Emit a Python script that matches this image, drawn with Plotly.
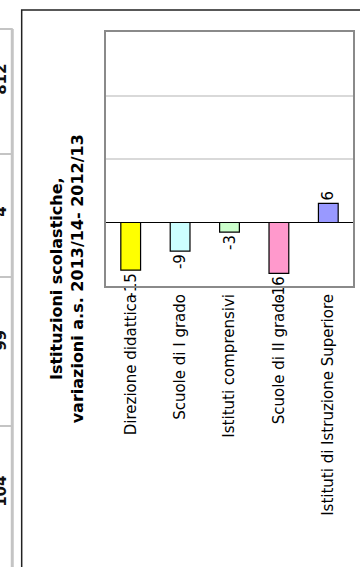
import plotly.graph_objects as go

categories = ["Direzione didattica", "Scuole di I grado", "Istituti comprensivi",
              "Scuole di II grado", "Istituti di Istruzione Superiore"]
values = [-15, -9, -3, -16, 6]
bar_colors = ["#FFFF00", "#CCFFFF", "#CCFFCC", "#FF99CC", "#9999FF"]
title_lines = ["Istituzioni scolastiche,", "variazioni a.s. 2013/14- 2012/13"]
table_values = ["812", "4", "99", "104"]

W, H = 360, 567
L, R, T, B = 106, 5, 32, 281
PW, PH = W - L - R, H - T - B


def xp(px):
    return (px - L) / PW


def yp(py):
    return (H - B - py) / PH


fig = go.Figure()
fig.add_trace(go.Bar(
    x=categories, y=values,
    marker=dict(color=bar_colors, line=dict(color="black", width=1.2)),
    width=0.4,
    text=[str(v) for v in values],
    textposition="outside", textangle=-90,
    constraintext="none", cliponaxis=False,
    textfont=dict(family="DejaVu Sans", size=15, color="black"),
))

shapes = []
# outer chart frame
shapes.append(dict(type="rect", xref="paper", yref="paper",
                   x0=xp(21), x1=xp(380), y0=yp(10), y1=yp(600),
                   line=dict(color="#222222", width=1.5), layer="below"))
# left table borders
shapes.append(dict(type="line", xref="paper", yref="paper",
                   x0=xp(11.5), x1=xp(11.5), y0=yp(29), y1=yp(600),
                   line=dict(color="#c4c4c4", width=3)))
for yy in [29, 154, 277, 426]:
    shapes.append(dict(type="line", xref="paper", yref="paper",
                       x0=xp(-5), x1=xp(12), y0=yp(yy), y1=yp(yy),
                       line=dict(color="#c4c4c4", width=2)))

annotations = [dict(
    text="<b>" + "<br>".join(title_lines) + "</b>",
    xref="paper", yref="paper", x=xp(67), y=yp(279),
    xanchor="center", yanchor="middle", textangle=-90, showarrow=False,
    font=dict(family="DejaVu Sans", size=16, color="black"), align="center")]
for txt, yy in zip(table_values, [79, 212, 340, 491]):
    annotations.append(dict(
        text="<b>" + txt + "</b>", xref="paper", yref="paper",
        x=xp(0), y=yp(yy), xanchor="center", yanchor="middle",
        textangle=-90, showarrow=False,
        font=dict(family="DejaVu Sans", size=15, color="#111111")))

fig.update_layout(
    width=W, height=H,
    margin=dict(l=L, r=R, t=T, b=B),
    paper_bgcolor="white", plot_bgcolor="white",
    showlegend=False,
    bargap=0.6,
    shapes=shapes, annotations=annotations,
    xaxis=dict(tickangle=-90, showline=True, mirror=True, linecolor="#8a8a8a",
               linewidth=2, ticks="", showgrid=False,
               tickfont=dict(family="DejaVu Sans", size=15, color="black")),
    yaxis=dict(range=[-20, 60], dtick=20, showticklabels=False, showline=True,
               mirror=True, linecolor="#8a8a8a", linewidth=2, ticks="",
               gridcolor="#d9d9d9", gridwidth=1.5,
               zeroline=True, zerolinecolor="black", zerolinewidth=1),
)

fig.write_html("out.html")
